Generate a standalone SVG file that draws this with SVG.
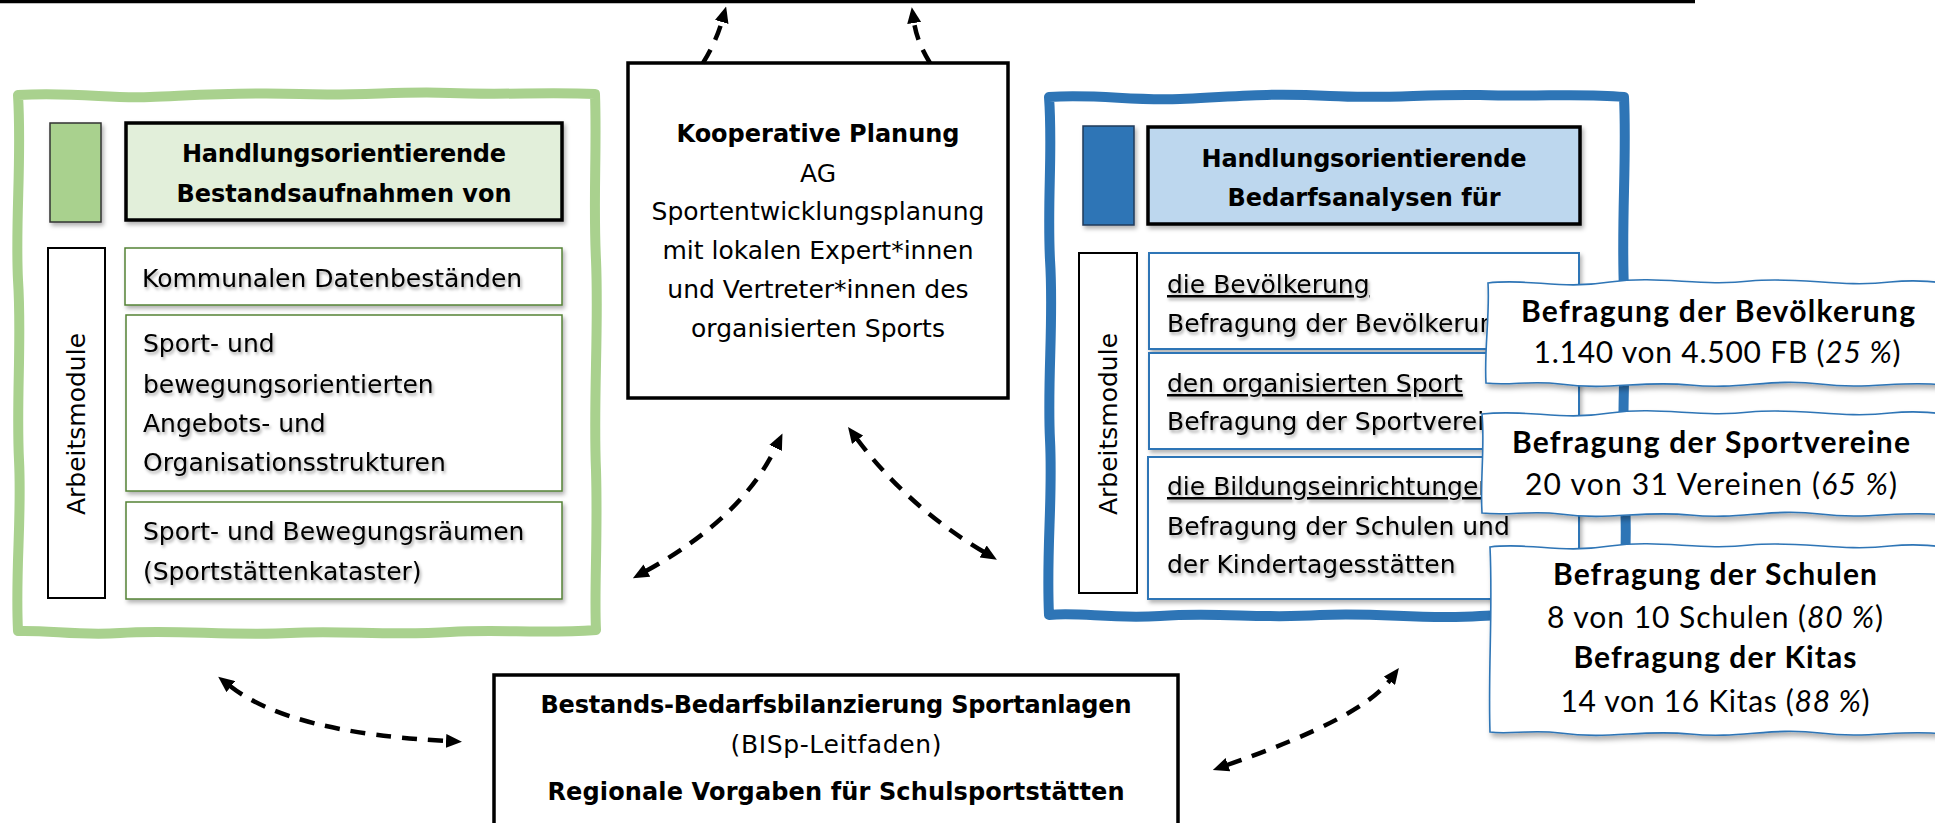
<svg xmlns="http://www.w3.org/2000/svg" width="1935" height="823" viewBox="0 0 1935 823">
<defs>
<style>
.t{font-family:"DejaVu Sans","Liberation Sans",sans-serif;font-size:25px;fill:#000}
.tb{font-family:"DejaVu Sans","Liberation Sans",sans-serif;font-size:24px;font-weight:bold;fill:#000}
.c{font-family:Lato,"Liberation Sans",sans-serif;font-size:30px;fill:#000}
.cb{font-family:Lato,"Liberation Sans",sans-serif;font-size:30px;font-weight:bold;fill:#000}
.ts{filter:url(#tsh)}
.conn{fill:none;stroke:#000;stroke-width:4.5;stroke-dasharray:15 11}
.gframe{fill:none;stroke:#a9d18e;stroke-width:10;stroke-linejoin:round}
.bframe{fill:none;stroke:#2e75b6;stroke-width:10;stroke-linejoin:round}
.gitem{fill:#fff;stroke:#548235;stroke-width:1.5}
.bitem{fill:#fff;stroke:#2e75b6;stroke-width:2}
.hdr{stroke:#000;stroke-width:3.5}
.mod{fill:#fff;stroke:#000;stroke-width:2}
.box{fill:#fff;stroke:#000;stroke-width:3.5}
.callout{fill:#fff;stroke:#2e75b6;stroke-width:1.6}
</style>
<filter id="sh" x="-10%" y="-10%" width="125%" height="130%"><feDropShadow dx="2" dy="3" stdDeviation="2" flood-color="#000" flood-opacity="0.3"/></filter>
<filter id="csh" x="-10%" y="-10%" width="125%" height="130%"><feDropShadow dx="2" dy="4" stdDeviation="2.5" flood-color="#000" flood-opacity="0.3"/></filter>
<filter id="tsh" x="-5%" y="-20%" width="115%" height="160%"><feDropShadow dx="1.5" dy="2.5" stdDeviation="1.5" flood-color="#000" flood-opacity="0.35"/></filter>
<marker id="ah" viewBox="0 0 16 14" refX="1" refY="7" markerWidth="16" markerHeight="14" markerUnits="userSpaceOnUse" orient="auto-start-reverse"><path d="M0,0 L16,7 L0,14 z" fill="#000"/></marker>
</defs>
<rect width="1935" height="823" fill="#fff"/>

<g id="top-line"><line x1="0" y1="1.5" x2="1695" y2="1.5" stroke="#000" stroke-width="3.5"/></g>

<g id="bestandsaufnahmen">
<path class="gframe" d="M18,95 C80,92 110,99 150,97 C200,95 240,92 300,94 C360,96 400,91 450,93 C500,95 550,92 595,94 C597,150 593,200 596,260 C599,330 593,400 596,470 C598,540 594,590 596,630 C540,634 500,629 450,632 C390,636 340,630 290,633 C230,636 170,629 120,633 C80,636 50,630 18,631 C15,570 22,520 19,460 C16,400 22,340 18,280 C15,220 22,160 18,95 Z"/>
<rect x="50" y="123" width="51" height="99" fill="#a9d18e" stroke="#333" stroke-width="1.5" filter="url(#sh)"/>
<rect class="hdr" x="126" y="123" width="436" height="97" fill="#e2efda" filter="url(#sh)"/>
<text class="tb" x="344" y="162" text-anchor="middle" textLength="324">Handlungsorientierende</text>
<text class="tb" x="344" y="202" text-anchor="middle">Bestandsaufnahmen von</text>
<rect class="mod" x="48" y="248" width="57" height="350"/>
<text class="t" transform="translate(85,424) rotate(-90)" text-anchor="middle">Arbeitsmodule</text>
<g id="g-item1"><rect class="gitem" x="125" y="248" width="437" height="57" filter="url(#sh)"/>
<text class="t ts" x="142" y="287">Kommunalen Datenbeständen</text></g>
<g id="g-item2"><rect class="gitem" x="126" y="315" width="436" height="176" filter="url(#sh)"/>
<text class="t ts" x="143" y="352">Sport- und</text>
<text class="t ts" x="143" y="393">bewegungsorientierten</text>
<text class="t ts" x="143" y="432">Angebots- und</text>
<text class="t ts" x="143" y="471">Organisationsstrukturen</text></g>
<g id="g-item3"><rect class="gitem" x="126" y="502" width="436" height="97" filter="url(#sh)"/>
<text class="t ts" x="143" y="540">Sport- und Bewegungsräumen</text>
<text class="t ts" x="143" y="580">(Sportstättenkataster)</text></g>
</g>

<g id="kooperative-planung">
<rect class="box" x="628" y="63" width="380" height="335"/>
<text class="tb" x="818" y="142" text-anchor="middle">Kooperative Planung</text>
<text class="t" x="818" y="182" text-anchor="middle">AG</text>
<text class="t" x="818" y="220" text-anchor="middle">Sportentwicklungsplanung</text>
<text class="t" x="818" y="259" text-anchor="middle">mit lokalen Expert*innen</text>
<text class="t" x="818" y="298" text-anchor="middle">und Vertreter*innen des</text>
<text class="t" x="818" y="337" text-anchor="middle">organisierten Sports</text>
</g>

<g id="bedarfsanalysen">
<path class="bframe" d="M1049,97 C1100,94 1130,101 1180,99 C1240,96 1270,93 1330,96 C1390,99 1420,94 1480,95 C1540,97 1580,93 1624,97 C1627,160 1621,220 1624,290 C1627,360 1620,430 1625,500 C1628,560 1622,590 1624,617 C1570,620 1530,613 1480,616 C1420,620 1380,612 1320,615 C1260,619 1220,612 1160,616 C1110,619 1080,612 1049,615 C1046,550 1053,500 1050,440 C1047,380 1054,320 1050,260 C1047,200 1053,150 1049,97 Z"/>
<rect x="1083" y="126" width="51" height="99" fill="#2e75b6" stroke="#1f3b5a" stroke-width="1.5" filter="url(#sh)"/>
<rect class="hdr" x="1148" y="127" width="432" height="97" fill="#bdd7ee" filter="url(#sh)"/>
<text class="tb" x="1364" y="167" text-anchor="middle" textLength="325">Handlungsorientierende</text>
<text class="tb" x="1364" y="206" text-anchor="middle">Bedarfsanalysen für</text>
<rect class="mod" x="1079" y="253" width="58" height="340"/>
<text class="t" transform="translate(1117,424) rotate(-90)" text-anchor="middle">Arbeitsmodule</text>
<g id="b-item1"><rect class="bitem" x="1149" y="253" width="430" height="96" filter="url(#sh)"/>
<text class="t ts" x="1167" y="293" text-decoration="underline">die Bevölkerung</text>
<text class="t ts" x="1167" y="332">Befragung der Bevölkerung</text></g>
<g id="b-item2"><rect class="bitem" x="1149" y="353" width="430" height="96" filter="url(#sh)"/>
<text class="t ts" x="1167" y="392" text-decoration="underline">den organisierten Sport</text>
<text class="t ts" x="1167" y="430">Befragung der Sportvereine</text></g>
<g id="b-item3"><rect class="bitem" x="1148" y="457" width="431" height="142" filter="url(#sh)"/>
<text class="t ts" x="1167" y="495" text-decoration="underline">die Bildungseinrichtungen</text>
<text class="t ts" x="1167" y="535">Befragung der Schulen und</text>
<text class="t ts" x="1167" y="573">der Kindertagesstätten</text></g>
</g>

<g id="callout-bevoelkerung">
<path class="callout" filter="url(#csh)" d="M1488,283 C1530,278 1560,290 1610,282 C1660,275 1700,287 1750,281 C1800,276 1840,288 1890,282 C1910,280 1930,281 1945,283 L1945,385 C1900,380 1870,390 1820,384 C1770,378 1740,390 1690,385 C1640,380 1610,391 1560,384 C1530,380 1510,386 1486,383 C1484,350 1490,315 1488,283 Z"/>
<text class="cb" x="1718" y="322" text-anchor="middle" textLength="394">Befragung der Bevölkerung</text>
<text class="c" x="1717" y="363" text-anchor="middle" textLength="367">1.140 von 4.500 FB (<tspan font-style="italic">25 %</tspan>)</text>
</g>

<g id="callout-sportvereine">
<path class="callout" filter="url(#csh)" d="M1482,414 C1530,409 1560,421 1610,413 C1660,406 1700,418 1750,412 C1800,407 1840,419 1890,413 C1910,411 1930,412 1945,414 L1945,515 C1900,510 1870,520 1820,514 C1770,508 1740,520 1690,515 C1640,510 1610,521 1560,514 C1530,510 1510,516 1482,513 C1480,480 1485,445 1482,414 Z"/>
<text class="cb" x="1711" y="453" text-anchor="middle" textLength="398">Befragung der Sportvereine</text>
<text class="c" x="1711" y="495" text-anchor="middle" textLength="372">20 von 31 Vereinen (<tspan font-style="italic">65 %</tspan>)</text>
</g>

<g id="callout-schulen-kitas">
<path class="callout" filter="url(#csh)" d="M1490,547 C1530,542 1560,554 1610,546 C1660,539 1700,551 1750,545 C1800,540 1840,552 1890,546 C1910,544 1930,545 1945,547 L1945,734 C1900,729 1870,739 1820,733 C1770,727 1740,739 1690,734 C1640,729 1610,740 1560,733 C1530,729 1510,735 1490,732 C1488,670 1493,610 1490,547 Z"/>
<text class="cb" x="1715" y="585" text-anchor="middle" textLength="324">Befragung der Schulen</text>
<text class="c" x="1715" y="628" text-anchor="middle" textLength="336">8 von 10 Schulen (<tspan font-style="italic">80 %</tspan>)</text>
<text class="cb" x="1715" y="668" text-anchor="middle" textLength="283">Befragung der Kitas</text>
<text class="c" x="1715" y="712" text-anchor="middle" textLength="309">14 von 16 Kitas (<tspan font-style="italic">88 %</tspan>)</text>
</g>

<g id="bilanzierung">
<rect class="box" x="494" y="675" width="684" height="170"/>
<text class="tb" x="836" y="713" text-anchor="middle" textLength="591">Bestands-Bedarfsbilanzierung Sportanlagen</text>
<text class="t" x="836" y="753" text-anchor="middle" textLength="211">(BISp-Leitfaden)</text>
<text class="tb" x="836" y="800" text-anchor="middle" textLength="577">Regionale Vorgaben für Schulsportstätten</text>
</g>

<g id="connectors">
<path class="conn" marker-end="url(#ah)" d="M703,63 Q716,42 722,21"/>
<path class="conn" marker-end="url(#ah)" d="M930,63 Q917,42 914,22"/>
<path class="conn" marker-start="url(#ah)" marker-end="url(#ah)" d="M646,571 Q742,518 776,447"/>
<path class="conn" marker-start="url(#ah)" marker-end="url(#ah)" d="M857,439 Q908,507 984,552"/>
<path class="conn" marker-start="url(#ah)" marker-end="url(#ah)" d="M230,686 Q290,733 447,741"/>
<path class="conn" marker-start="url(#ah)" marker-end="url(#ah)" d="M1227,765 Q1362,718 1390,680"/>
</g>
</svg>
